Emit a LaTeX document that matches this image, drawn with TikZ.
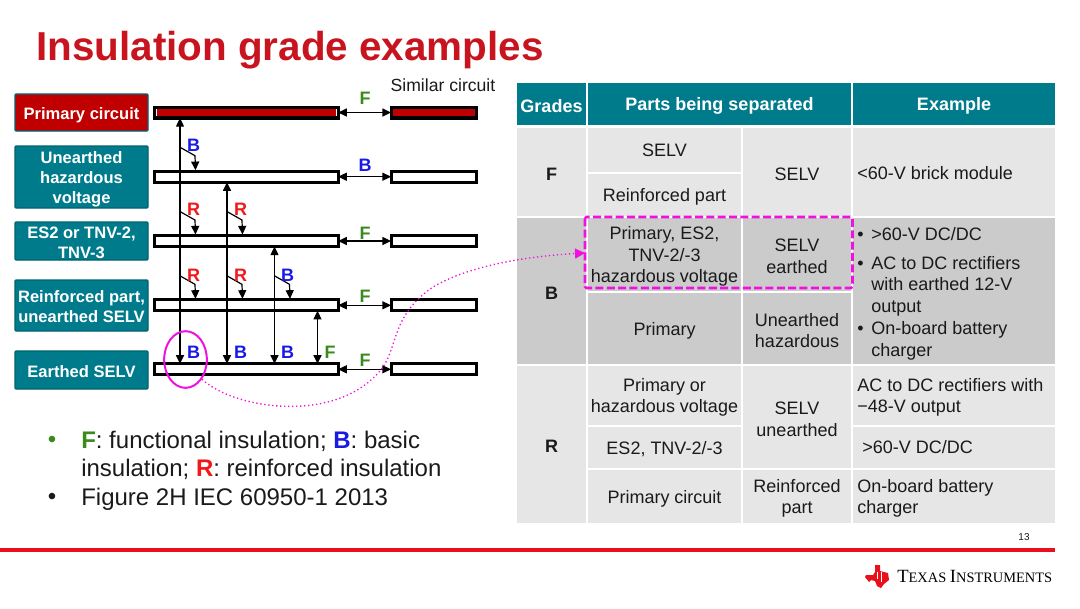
\documentclass[tikz,border=0pt]{standalone}
\usepackage{fontspec}
\setmainfont{Liberation Sans}
\newfontfamily\logofont{Liberation Serif}
\usepackage{xcolor}
\usetikzlibrary{shapes.geometric, arrows.meta, calc}

\definecolor{tealhead}{HTML}{007B8C}
\definecolor{tiRed}{HTML}{C00000}
\definecolor{lineRed}{HTML}{E8101A}
\definecolor{titleRed}{HTML}{C8141E}
\definecolor{cellLight}{HTML}{E6E6E6}
\definecolor{cellDark}{HTML}{CBCBCB}
\definecolor{insGreen}{HTML}{3A8A1E}
\definecolor{insBlue}{HTML}{1A1AE6}
\definecolor{insRed}{HTML}{F01818}
\definecolor{pinkMark}{HTML}{F010E0}
\definecolor{bodyText}{HTML}{1A1A1A}

\tikzset{
    tag/.style={draw=tealhead!80!black, line width=1pt, rounded corners=0.8pt, fill=tealhead},
    tagtext/.style={white, align=center, yshift=-1pt, font=\fontsize{12.4}{15}\selectfont\bfseries},
    bar/.style={draw=black, line width=2.3pt, fill=white, minimum height=8.2pt, inner sep=0pt, outer sep=0pt},
    mainbar/.style={bar, minimum width=137.4pt},
    simbar/.style={bar, minimum width=64.4pt},
    link/.style={line width=0.9pt, {Triangle[length=6.5pt,width=6pt]}-{Triangle[length=6.5pt,width=6pt]}},
    branch/.style={line width=0.9pt, -{Triangle[length=6.5pt,width=6pt]}},
    grade/.style={font=\fontsize{13.5}{15}\selectfont\bfseries},
    head/.style={white, yshift=-1.5pt, font=\fontsize{13.5}{16}\selectfont\bfseries},
    cell/.style={bodyText, align=center, yshift=-1.5pt, font=\fontsize{13.5}{16.2}\selectfont},
    exline/.style={bodyText, anchor=west, inner sep=0pt, yshift=-1pt, text height=9.5pt, text depth=2.5pt, font=\fontsize{13.5}{16.2}\selectfont},
    note/.style={anchor=west, bodyText, inner sep=0pt, yshift=-1pt, text height=13pt, text depth=3pt, font=\fontsize{18}{21}\selectfont},
    dotmark/.style={font=\fontsize{18}{21}\selectfont, inner sep=0pt},
}

\begin{document}
\begin{tikzpicture}[x=0.75pt, y=-0.75pt]
    \useasboundingbox (0,0) rectangle (1080,608);

    \node[anchor=west, titleRed, inner sep=0pt, font=\fontsize{30.3}{34}\selectfont\bfseries] (title) at (36,50) {Insulation grade examples};
    \node[bodyText, font=\fontsize{13.2}{16}\selectfont] (similar) at (443,85) {Similar circuit};

    % left column
    \draw[tag, fill=tiRed] (15,94) rectangle (148,131) node[midway, tagtext, yshift=-1pt] (primary) {Primary circuit};
    \draw[tag] (15,146) rectangle (148,208) node[midway, tagtext, yshift=-0.5pt] (unearthed) {Unearthed\\hazardous\\voltage};
    \draw[tag] (15,222) rectangle (148,260) node[midway, tagtext] (estwo) {ES2 or TNV-2,\\TNV-3};
    \draw[tag] (15,280) rectangle (148,331) node[midway, tagtext] (reinforced) {Reinforced part,\\unearthed SELV};
    \draw[tag] (15,351) rectangle (148,389) node[midway, tagtext] (earthed) {Earthed SELV};

    % bars
    \foreach \i/\y in {1/112.5, 2/176.7, 3/241, 4/305.3, 5/369.3} {
        \node[mainbar] (bar\i) at (246.5,\y) {};
        \node[simbar] (sim\i) at (434,\y) {};
        \draw[link] (bar\i.east) -- (sim\i.west);
    }
    \fill[tiRed] (bar1.south west) ++(1.7,-1.7) rectangle ($(bar1.north east)+(-1.7,1.7)$);
    \fill[tiRed] (sim1.south west) ++(1.7,-1.7) rectangle ($(sim1.north east)+(-1.7,1.7)$);

    % vertical links
    \coordinate (va) at (180,0);
    \coordinate (vb) at (227,0);
    \coordinate (vc) at (274.5,0);
    \coordinate (vd) at (317.5,0);
    \draw[link] (va |- bar1.south) -- (va |- bar5.north);
    \draw[link] (vb |- bar2.south) -- (vb |- bar5.north);
    \draw[link] (vc |- bar3.south) -- (vc |- bar5.north);
    \draw[link] (vd |- bar4.south) -- (vd |- bar5.north);

    % branches down to the bars
    \foreach \v/\b in {va/bar2, va/bar3, vb/bar3, va/bar4, vb/bar4, vc/bar4} {
        \draw[branch] ($(\v |- \b.north)+(0,-24)$) -- ++(15,8.5) -- ($(\v |- \b.north)+(15.5,-1)$);
    }

    % letters
    \foreach \n/\x/\y/\c/\t in {
        la/365/98/insGreen/F, lb/365/165/insBlue/B, lc/365/233/insGreen/F, ld/365/296/insGreen/F, le/365/360/insGreen/F,
        lf/193.5/145/insBlue/B, lg/193.5/209/insRed/R, lh/240.5/209/insRed/R, li/193.5/275/insRed/R, lj/240.5/275/insRed/R,
        lk/287.5/275/insBlue/B, ll/193.5/352/insBlue/B, lm/240.5/352/insBlue/B, ln/287.5/352/insBlue/B, lo/330/352/insGreen/F} {
        \node[grade, text=\c, inner sep=0pt] (\n) at (\x,\y) {\t};
    }

    % bullets
    \node[dotmark, insGreen] (dota) at (52,442) {•};
    \node[note] (notea) at (81,440) {\textcolor{insGreen}{\textbf{F}}: functional insulation; \textcolor{insBlue}{\textbf{B}}: basic};
    \node[note] (noteb) at (81,468.5) {insulation; \textcolor{insRed}{\textbf{R}}: reinforced insulation};
    \node[dotmark, bodyText] (dotb) at (52,499) {•};
    \node[note] (notec) at (81,497) {Figure 2H IEC 60950-1 2013};

    % table head
    \fill[tealhead] (517,83) rectangle (586,125) node[midway, head] (hgrades) {Grades};
    \fill[tealhead] (588,83) rectangle (851,125) node[midway, head] (hparts) {Parts being separated};
    \fill[tealhead] (853,83) rectangle (1055,125) node[midway, head] (hexample) {Example};

    % grade F
    \fill[cellLight] (517,128) rectangle (586,216) node[midway, cell, font=\fontsize{13.5}{16}\selectfont\bfseries] (gradef) {F};
    \fill[cellLight] (588,128) rectangle (741,172) node[midway, cell, yshift=1.5pt] (fa) {SELV};
    \fill[cellLight] (588,174) rectangle (741,216) node[midway, cell] (fb) {Reinforced part};
    \fill[cellLight] (743,128) rectangle (851,216) node[midway, cell] (fc) {SELV};
    \fill[cellLight] (853,128) rectangle (1055,216);
    \node[exline] (fe) at (857,173) {<60-V brick module};

    % grade B
    \fill[cellDark] (517,218) rectangle (586,364) node[midway, cell, font=\fontsize{13.5}{16}\selectfont\bfseries] (gradeb) {B};
    \fill[cellDark] (588,218) rectangle (741,291) node[midway, cell] (ba) {Primary, ES2,\\TNV-2/-3\\hazardous voltage};
    \fill[cellDark] (743,218) rectangle (851,291) node[midway, cell] (bb) {SELV\\earthed};
    \fill[cellDark] (588,293) rectangle (741,364) node[midway, cell] (bc) {Primary};
    \fill[cellDark] (743,293) rectangle (851,364) node[midway, cell] (bd) {Unearthed\\hazardous};
    \fill[cellDark] (853,218) rectangle (1055,364);
    \node[exline] (be) at (857,234) {•};
    \node[exline] (bf) at (871,234) {>60-V DC/DC};
    \node[exline] (bg) at (857,263) {•};
    \node[exline] (bh) at (871,263) {AC to DC rectifiers};
    \node[exline] (bi) at (871,284.5) {with earthed 12-V};
    \node[exline] (bj) at (871,306.5) {output};
    \node[exline] (bk) at (857,328) {•};
    \node[exline] (bl) at (871,328) {On-board battery};
    \node[exline] (bm) at (871,350) {charger};

    % grade R
    \fill[cellLight] (517,366) rectangle (586,523) node[midway, cell, font=\fontsize{13.5}{16}\selectfont\bfseries] (grader) {R};
    \fill[cellLight] (588,366) rectangle (741,425) node[midway, cell] (ra) {Primary or\\hazardous voltage};
    \fill[cellLight] (588,427) rectangle (741,468) node[midway, cell] (rb) {ES2, TNV-2/-3};
    \fill[cellLight] (588,470) rectangle (741,523) node[midway, cell] (rc) {Primary circuit};
    \fill[cellLight] (743,366) rectangle (851,468) node[midway, cell] (rd) {SELV\\unearthed};
    \fill[cellLight] (743,470) rectangle (851,523) node[midway, cell] (re) {Reinforced\\part};
    \fill[cellLight] (853,366) rectangle (1055,425);
    \fill[cellLight] (853,427) rectangle (1055,468);
    \fill[cellLight] (853,470) rectangle (1055,523);
    \node[exline] (rf) at (857,385) {AC to DC rectifiers with};
    \node[exline] (rg) at (857,406.5) {−48-V output};
    \node[exline] (rh) at (862,447) {>60-V DC/DC};
    \node[exline] (ri) at (857,486) {On-board battery};
    \node[exline] (rj) at (857,507) {charger};

    % pink marks
    \draw[pinkMark, line width=1.9pt, dash pattern=on 6pt off 2.5pt, rounded corners=1pt] (585,217) rectangle (852.5,288);
    \coordinate (boxwest) at (585,253);
    \node[ellipse, draw=pinkMark, line width=1.5pt, minimum width=32pt, minimum height=42.5pt, inner sep=0pt] (circ) at (185.5,359.5) {};
    \draw[pinkMark, line width=1pt, dotted, -{Triangle[length=7.5pt,width=7.5pt]}] (circ.-50) .. controls (235,410) and (340,425) .. (383,367)
        .. controls (398,345) and (392,315) .. (433,287) .. controls (470,265) and (530,256) .. (boxwest);

    % footer
    \draw[lineRed, line width=2.6pt] (0,550) coordinate (rulea) -- (1055,550) coordinate (ruleb);
    \node[bodyText, font=\fontsize{7.5}{9}\selectfont] (page) at (1024,537) {13};
    \fill[lineRed] (875,565) -- (880,565) -- (880,571) -- (888,573) -- (889,580) -- (884,584) -- (881,588) -- (877,586)
        -- (875,581) -- (871,580) -- (869,582) -- (865,577) -- (866,575) -- (873,575) -- (875,572) -- cycle;
    \draw[white, line width=0.6pt] (877,572) -- (877,579) (881,572) -- (881,582);
    \node[anchor=west, inner sep=0pt, black, font=\logofont\fontsize{10.8}{12}\selectfont] (logo) at (897,576.5)
        {{\fontsize{14}{12}\selectfont T}EXAS {\fontsize{14}{12}\selectfont I}NSTRUMENTS};
\end{tikzpicture}
\end{document}
